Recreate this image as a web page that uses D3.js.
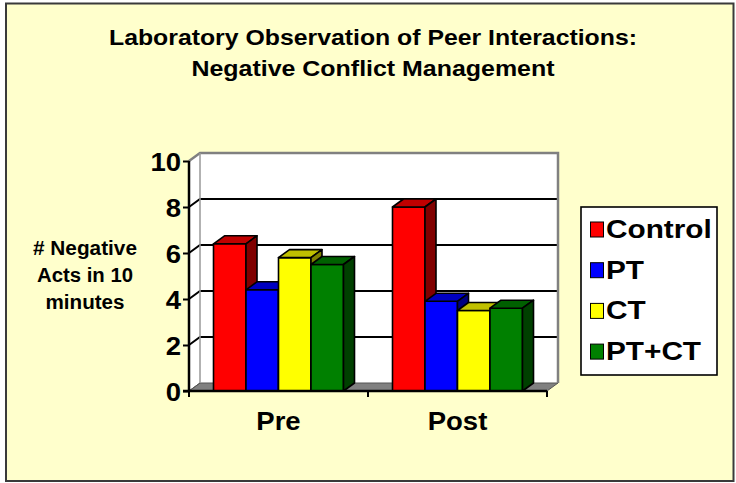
<!DOCTYPE html>
<html><head><meta charset="utf-8">
<script src="https://cdn.jsdelivr.net/npm/d3@7"></script>
<style>body{margin:0;background:#fff}svg{display:block}</style>
</head><body>
<svg id="c" width="736" height="483"></svg>
<script>
// ---- data ----
const categories = ["Pre", "Post"];
const seriesNames = ["Control", "PT", "CT", "PT+CT"];
const control = [6.4, 8.0];
const pt = [4.4, 3.9];
const ct = [5.8, 3.5];
const ptct = [5.5, 3.6];
const yTicks = [0, 2, 4, 6, 8, 10];
const titleLines = ["Laboratory Observation of Peer Interactions:", "Negative Conflict Management"];
const yTitleLines = ["# Negative", "Acts in 10", "minutes"];

// ---- styles ----
const seriesValues = [control, pt, ct, ptct];
const colors = ["#FF0000", "#0000FF", "#FFFF00", "#008000"];
const topColors = ["#C00000", "#0000C0", "#C0C000", "#006000"];
const sideColors = ["#800000", "#000080", "#808000", "#004000"];
const FONT = "'Liberation Sans', Arial, Helvetica, sans-serif";
const DX = 11, DY = -8;

const svg = d3.select("#c");

function stretch(sel, factor) {
  sel.each(function () {
    const w = this.getComputedTextLength();
    d3.select(this).attr("textLength", w * factor).attr("lengthAdjust", "spacingAndGlyphs");
  });
}
function fitTo(sel, width) {
  sel.attr("textLength", width).attr("lengthAdjust", "spacingAndGlyphs");
}

// background + frame
svg.append("rect").attr("x", 6).attr("y", 3.5).attr("width", 727.5).attr("height", 477.5)
  .attr("fill", "#FFFFCC").attr("stroke", "#3a3a3a").attr("stroke-width", 2);

// title
const titleW = [528, 363];
const titleY = [44.5, 75.5];
titleLines.forEach((t, i) => {
  svg.append("text").attr("x", 373).attr("y", titleY[i]).attr("text-anchor", "middle")
    .attr("font-family", FONT).attr("font-weight", "bold").attr("font-size", 22)
    .attr("fill", "#000").text(t).call(fitTo, titleW[i]);
});

// y title
const yTitleW = [104, 96, 79];
const yTitleY = [254.5, 282, 308.5];
yTitleLines.forEach((t, i) => {
  svg.append("text").attr("x", 85).attr("y", yTitleY[i]).attr("text-anchor", "middle")
    .attr("font-family", FONT).attr("font-weight", "bold").attr("font-size", 20)
    .attr("fill", "#000").text(t).call(fitTo, yTitleW[i]);
});

// scales
const x = d3.scaleBand().domain(categories).range([189, 547]).padding(0);
const inner = d3.scaleBand().domain(seriesNames).range([24.5, x.bandwidth() - 24.5]).padding(0);
const y = d3.scaleLinear().domain([0, 10]).range([391, 161]);
const y0 = y(0), yTop = y(10);
const xL = x.range()[0], xR = x.range()[1];

// walls
const g = svg.append("g");
g.append("polygon").attr("points", [[xL, yTop], [xL + DX, yTop + DY], [xL + DX, y0 + DY], [xL, y0]].join(" "))
  .attr("fill", "#fff");
g.append("rect").attr("x", xL + DX).attr("y", yTop + DY).attr("width", xR - xL).attr("height", y0 - yTop)
  .attr("fill", "#fff");
// floor
g.append("polygon").attr("points", [[xL, y0], [xR, y0], [xR + DX, y0 + DY], [xL + DX, y0 + DY]].join(" "))
  .attr("fill", "#808080").attr("stroke", "#555").attr("stroke-width", 1);

// gridlines
yTicks.filter(t => t > 0 && t < 10).forEach(t => {
  g.append("polyline").attr("points", [[xL, y(t)], [xL + DX, y(t) + DY], [xR + DX, y(t) + DY]].join(" "))
    .attr("fill", "none").attr("stroke", "#000").attr("stroke-width", 2);
});
// wall edges (gray)
g.append("polyline").attr("points", [[xL, yTop], [xL + DX, yTop + DY], [xR + DX, yTop + DY], [xR + DX, y0 + DY]].join(" "))
  .attr("fill", "none").attr("stroke", "#808080").attr("stroke-width", 2.5);
g.append("line").attr("x1", xL + DX).attr("x2", xL + DX).attr("y1", yTop + DY).attr("y2", y0 + DY)
  .attr("stroke", "#999").attr("stroke-width", 1.5);
g.append("line").attr("x1", xL).attr("x2", xL + DX).attr("y1", y0).attr("y2", y0 + DY)
  .attr("stroke", "#555").attr("stroke-width", 1);

// bars
const bars = svg.append("g").attr("stroke", "#000").attr("stroke-width", 1.6).attr("stroke-linejoin", "round");
categories.forEach((c, i) => {
  seriesNames.forEach((s, j) => {
    const v = seriesValues[j][i];
    const bx = x(c) + inner(s), w = inner.bandwidth(), ty = y(v);
    bars.append("rect").attr("x", bx).attr("y", ty).attr("width", w).attr("height", y0 - ty).attr("fill", colors[j]);
    bars.append("polygon").attr("points", [[bx, ty], [bx + w, ty], [bx + w + DX, ty + DY], [bx + DX, ty + DY]].join(" "))
      .attr("fill", topColors[j]);
    bars.append("polygon").attr("points", [[bx + w, ty], [bx + w + DX, ty + DY], [bx + w + DX, y0 + DY], [bx + w, y0]].join(" "))
      .attr("fill", sideColors[j]);
  });
});

// y axis
const yAxis = svg.append("g").attr("transform", `translate(${xL},0)`)
  .call(d3.axisLeft(y).tickValues(yTicks).tickSize(6).tickPadding(2).tickFormat(d3.format("d")));
yAxis.select(".domain").attr("stroke", "#000").attr("stroke-width", 2.5).attr("d", `M0,${yTop}V${y0}`);
yAxis.selectAll(".tick line").attr("stroke", "#000").attr("stroke-width", 2);
yAxis.selectAll(".tick text").attr("font-family", FONT).attr("font-weight", "bold").attr("font-size", 25)
  .attr("fill", "#000").attr("dy", "0.36em").call(stretch, 1.1);

// x axis
const xAxis = svg.append("g").attr("transform", `translate(0,${y0})`)
  .call(d3.axisBottom(x).tickSize(0).tickPadding(0));
xAxis.select(".domain").attr("stroke", "#000").attr("stroke-width", 2.5).attr("d", `M${xL - 6},0H${xR}`);
xAxis.selectAll(".tick text").attr("font-family", FONT).attr("font-weight", "bold").attr("font-size", 25)
  .attr("fill", "#000").attr("y", 39).attr("dy", 0).call(stretch, 1.1);
const bounds = [xL].concat(categories.map(c => x(c) + x.bandwidth()));
xAxis.selectAll(".bt").data(bounds).enter().append("line").attr("class", "bt")
  .attr("x1", d => d).attr("x2", d => d).attr("y1", 0).attr("y2", 6)
  .attr("stroke", "#000").attr("stroke-width", 2);

// legend
const lg = svg.append("g");
lg.append("rect").attr("x", 581).attr("y", 207).attr("width", 136).attr("height", 168)
  .attr("fill", "#fff").attr("stroke", "#000").attr("stroke-width", 1.6);
seriesNames.forEach((s, j) => {
  const by = 238 + j * 40.7;
  lg.append("rect").attr("x", 590.5).attr("y", by - 16).attr("width", 13).attr("height", 15)
    .attr("fill", colors[j]).attr("stroke", "#000").attr("stroke-width", 1);
  lg.append("text").attr("x", 606).attr("y", by).attr("font-family", FONT).attr("font-weight", "bold")
    .attr("font-size", 25).attr("fill", "#000").text(s).call(stretch, 1.19);
});
</script>
</body></html>
